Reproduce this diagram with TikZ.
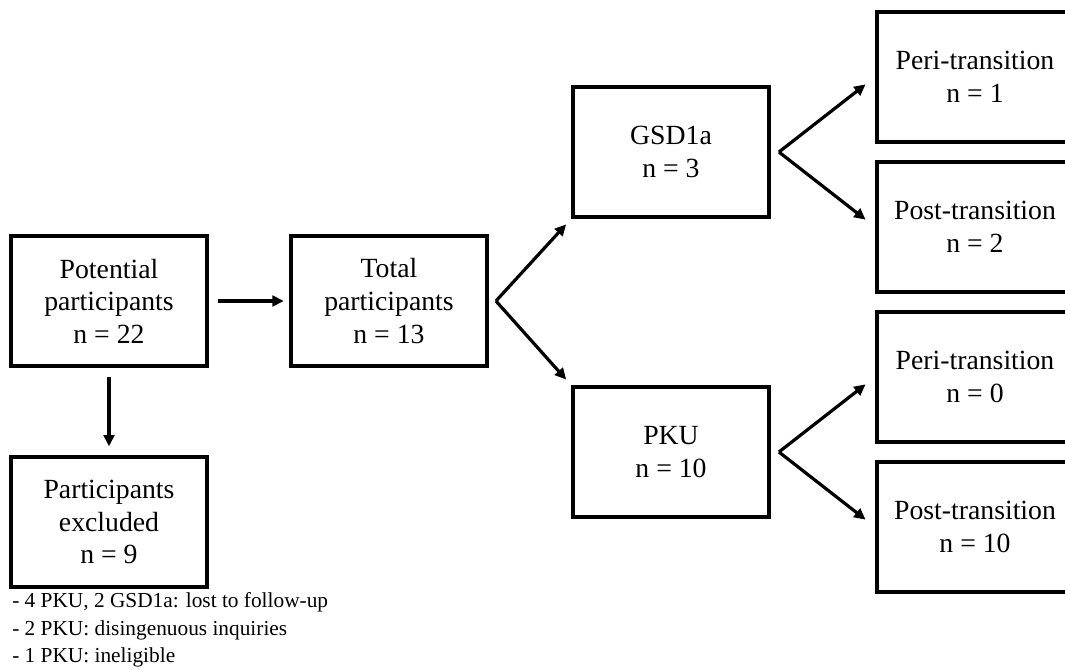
\documentclass[tikz,border=0pt]{standalone}
\usepackage{fontspec}
\setmainfont{Liberation Serif}
\usetikzlibrary{arrows.meta,calc}
\begin{document}
\begin{tikzpicture}[x=0.75pt,y=-0.75pt,
  box/.style={draw,line width=2.9pt,minimum width=147pt,minimum height=97.5pt,
    inner sep=0pt,align=center,font=\fontsize{20.8}{24.4}\selectfont},
  arr/.style={line width=2.4pt,-{Triangle[length=8.5pt,width=8pt]}},
  note/.style={anchor=base west,inner sep=0pt,font=\fontsize{16}{19}\selectfont}]
\useasboundingbox (0,0) rectangle (1065,669);
\clip (0,0) rectangle (1065,669);

% enrolment column
\node[box] (pot) at (109,301) {Potential\\participants\\n = 22};
\node[box] (exc) at (109,522) {Participants\\excluded\\n = 9};
\node[box] (tot) at (389,301) {Total\\participants\\n = 13};

% condition groups
\node[box] (gsd) at (671,152) {GSD1a\\n = 3};
\node[box] (pku) at (671,452) {PKU\\n = 10};

% transition stages
\node[box] (gperi) at (975,77)  {Peri-transition\\n = 1};
\node[box] (gpost) at (975,227) {Post-transition\\n = 2};
\node[box] (kperi) at (975,377) {Peri-transition\\n = 0};
\node[box] (kpost) at (975,527) {Post-transition\\n = 10};

% exclusion reasons
\node[note] (r1) at (12,607) {- 4 PKU, 2 GSD1a: lost to follow-up};
\node[note] (r2) at (12,635) {- 2 PKU: disingenuous inquiries};
\node[note] (r3) at (12,662) {- 1 PKU: ineligible};

% connectors
\draw[arr,shorten <=7pt,shorten >=4pt] (pot.east) -- (tot.west);
\draw[arr,shorten <=6.5pt,shorten >=6.5pt] (pot.south) -- (exc.north);

\coordinate (tsplit) at ($(tot.east)+(7,0)$);
\draw[arr,shorten >=5.5pt] (tsplit) -- (gsd.south west);
\draw[arr,shorten >=5.5pt] (tsplit) -- (pku.north west);

\coordinate (gsplit) at ($(gsd.east)+(8,0)$);
\draw[arr,shorten >=9pt] (gsplit) -- (gperi.west);
\draw[arr,shorten >=9pt] (gsplit) -- (gpost.west);

\coordinate (ksplit) at ($(pku.east)+(8,0)$);
\draw[arr,shorten >=9pt] (ksplit) -- (kperi.west);
\draw[arr,shorten >=9pt] (ksplit) -- (kpost.west);
\end{tikzpicture}
\end{document}
